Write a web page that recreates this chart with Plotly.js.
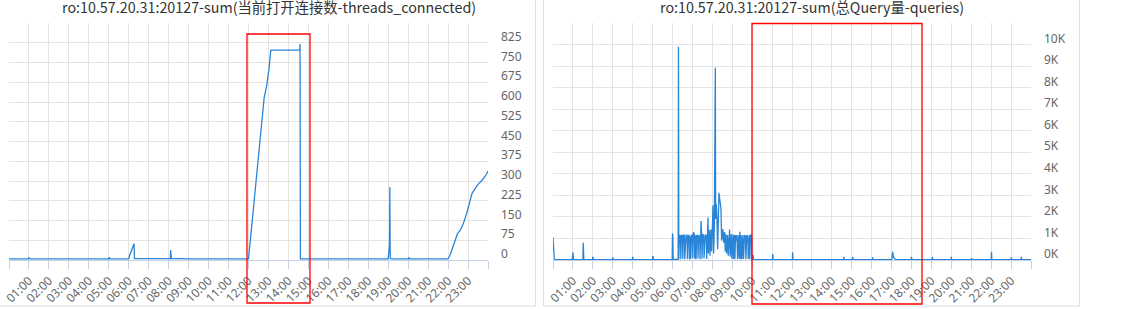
<!DOCTYPE html>
<html>
<head>
<meta charset="utf-8">
<script src="https://cdn.plot.ly/plotly-3.0.1.min.js"></script>
<style>html,body{margin:0;padding:0;background:#fff;}#chart{width:1131px;height:309px;}</style>
</head>
<body>
<div id="chart"></div>
<script>
// ---------- DATA ----------
const leftTitle = 'ro:10.57.20.31:20127-sum(当前打开连接数-threads_connected)';
const rightTitle = 'ro:10.57.20.31:20127-sum(总Query量-queries)';

const hourLabels = ['','01:00','02:00','03:00','04:00','05:00','06:00','07:00','08:00','09:00','10:00','11:00',
  '12:00','13:00','14:00','15:00','16:00','17:00','18:00','19:00','20:00','21:00','22:00','23:00',''];
const hourTimes = ['00:00','01:00','02:00','03:00','04:00','05:00','06:00','07:00','08:00','09:00','10:00','11:00',
  '12:00','13:00','14:00','15:00','16:00','17:00','18:00','19:00','20:00','21:00','22:00','23:00','24:00'];

const leftTickVals = [0,75,150,225,300,375,450,525,600,675,750,825,900];
const leftTickText = ['0','75','150','225','300','375','450','525','600','675','750','825',''];
const rightTickVals = [0,1000,2000,3000,4000,5000,6000,7000,8000,9000,10000,11000];
const rightTickText = ['0K','1K','2K','3K','4K','5K','6K','7K','8K','9K','10K',''];

const threadsTime = ['00:00','00:30','00:58','01:00','01:03','02:00','03:00','04:00','05:00','05:01','05:03',
  '06:00','06:02','06:08','06:16','06:17','07:00','07:50','08:05','08:06','08:08','09:00','10:00','11:00',
  '12:00','12:10','12:25','12:40','12:47','12:55','13:02','13:07','13:30','14:00','14:34','14:35','14:36',
  '15:00','16:00','17:00','18:00','19:00','19:04','19:05','19:06','19:10','20:00','20:02','20:04','21:00',
  '22:00','22:06','22:14','22:22','22:28','22:37','22:46','22:56','23:04','23:12','23:22','23:31','23:41','23:52','24:00'];
const threadsValue = [4,4,4,9,4,4,3,4,4,11,4,
  4,15,35,62,5,4,4,5,38,6,4,4,4,
  4,133,323,513,615,665,729,797,797,797,797,820,4,
  4,4,4,4,4,60,276,6,4,4,9,4,4,
  4,19,48,82,99,114,139,177,221,253,272,289,301,319,338];

const queriesTime = ['00:00','00:02','00:04','00:58','01:00','01:02','01:30','01:31','01:33','01:59','02:00','02:02',
  '02:59','03:00','03:02','03:59','04:00','04:02','04:59','05:01','05:03','05:59','06:00','06:01','06:02','06:17','06:18','06:19',
  '06:21','06:24','06:25','06:27','06:30','06:31','06:33','06:36','06:37','06:41','06:44','06:45','06:47','06:50','06:51',
  '06:53','06:55','06:57','07:00','07:01','07:03','07:06','07:07','07:09','07:11','07:13','07:16','07:17','07:19','07:22','07:23',
  '07:26','07:28','07:29','07:31','07:34','07:35','07:39','07:42','07:43','07:47','07:48','07:51','07:53','07:56','07:58',
  '08:02','08:04','08:06','08:09','08:10','08:12','08:14','08:16','08:20','08:23','08:26','08:28','08:32','08:34','08:37','08:39',
  '08:41','08:43','08:46','08:48','08:52','08:54','08:57','08:59','09:02','09:04','09:06','09:08','09:10','09:12','09:14','09:16',
  '09:19','09:21','09:23','09:25','09:27','09:29','09:32','09:34','09:37','09:40','09:41','09:44','09:47','09:48','09:50','09:52',
  '09:53','09:55','09:58','09:59','10:02','10:03','10:04','11:01','11:02','11:03','12:01','12:02','12:03',
  '14:35','14:36','14:37','15:02','15:03','15:04','16:02','16:03','16:04','17:01','17:03','17:06','17:10','17:12',
  '17:59','18:00','18:01','19:02','19:03','19:04','19:59','20:00','20:01','21:00','21:01','21:02','22:00','22:01','22:02',
  '23:00','23:01','23:02','23:30','23:31','23:32','24:00'];
const queriesValue = [1050,320,20,20,356,20,20,800,20,20,150,20,
  20,120,20,20,150,20,20,185,20,20,1235,1100,30,30,9900,30,
  1150,1120,40,1160,1100,60,1150,1150,30,1160,1100,50,1150,1130,40,
  1100,40,1160,1150,80,1296,1200,60,1150,40,1160,1120,70,1150,1100,40,
  1806,1150,60,1200,1150,80,1180,1100,50,1975,300,1389,200,1420,400,
  2546,300,1500,8920,1900,2593,1883,500,3117,2800,2392,900,1435,800,1300,400,
  1200,300,1157,200,1420,150,1200,50,1180,60,1157,40,1160,900,1157,50,
  1150,60,1312,40,1150,40,1160,50,1157,1100,40,1157,1100,50,1157,1157,
  40,1150,1150,30,20,230,20,20,280,20,20,356,20,
  20,150,20,20,150,20,20,120,20,20,385,120,40,20,
  20,150,20,20,150,20,20,150,20,20,80,20,20,385,20,
  20,120,20,20,150,20,20];

// ---------- HELPERS ----------
const DAY = '2024-01-01 ';
function toDate(t){ return t === '24:00' ? '2024-01-02 00:00' : DAY + t; }
const W = 1131, H = 309;
const px = x => x / W;
const py = y => 1 - y / H;

const lineColor = '#2a85d8';
const gridColor = '#e4e4e4';
const axisColor = '#c5d1e3';
const tickFont = {family: '"Noto Sans", "Noto Sans CJK SC", sans-serif', size: 12, color: '#666'};
const titleFont = {family: '"Noto Sans CJK SC", sans-serif', size: 14.3, color: '#333'};

const traces = [
  {x: threadsTime.map(toDate), y: threadsValue, type: 'scatter', mode: 'lines',
   line: {color: lineColor, width: 1.3}, xaxis: 'x', yaxis: 'y', hoverinfo: 'skip'},
  {x: queriesTime.map(toDate), y: queriesValue, type: 'scatter', mode: 'lines',
   line: {color: lineColor, width: 1.3}, xaxis: 'x2', yaxis: 'y2', hoverinfo: 'skip'}
];

function xAxis(dom, anchor){
  return {domain: dom, anchor: anchor, type: 'date',
    range: [toDate('00:00'), toDate('24:00')],
    tickmode: 'array', tickvals: hourTimes.map(toDate), ticktext: hourLabels,
    tickangle: -45, tickfont: tickFont,
    showgrid: true, gridcolor: gridColor, gridwidth: 1,
    showline: true, linecolor: axisColor, linewidth: 1,
    ticks: 'outside', ticklen: 8, tickcolor: axisColor, tickwidth: 1,
    zeroline: false, fixedrange: true};
}
function yAxis(dom, anchor, vals, text, maxV){
  return {domain: dom, anchor: anchor, side: 'right', range: [0, maxV],
    tickmode: 'array', tickvals: vals, ticktext: text, tickfont: tickFont,
    showgrid: true, gridcolor: gridColor, gridwidth: 1,
    showline: false, ticks: '', zeroline: false,
    ticklabelshift: -6, ticklabelstandoff: 12, fixedrange: true};
}

const yDom = [py(260), py(23)];

const layout = {
  width: W, height: H,
  margin: {l: 0, r: 0, t: 0, b: 0, pad: 0},
  paper_bgcolor: '#fff', plot_bgcolor: '#fff',
  showlegend: false,
  xaxis: xAxis([px(9), px(488)], 'y'),
  yaxis: yAxis(yDom, 'x', leftTickVals, leftTickText, 900),
  xaxis2: xAxis([px(553), px(1031)], 'y2'),
  yaxis2: yAxis(yDom, 'x2', rightTickVals, rightTickText, 11000),
  annotations: [
    {text: leftTitle, xref: 'paper', yref: 'paper', x: px(269), y: py(6.5), xanchor: 'center', yanchor: 'middle',
     showarrow: false, font: titleFont},
    {text: rightTitle, xref: 'paper', yref: 'paper', x: px(812), y: py(6.5), xanchor: 'center', yanchor: 'middle',
     showarrow: false, font: titleFont}
  ],
  shapes: [
    // panel borders
    {type: 'line', xref: 'paper', yref: 'paper', x0: px(535.5), x1: px(535.5), y0: py(306), y1: py(-2), line: {color: '#dedede', width: 1}},
    {type: 'line', xref: 'paper', yref: 'paper', x0: px(-2), x1: px(535.5), y0: py(306), y1: py(306), line: {color: '#dedede', width: 1}},
    {type: 'rect', xref: 'paper', yref: 'paper', x0: px(543.5), x1: px(1079.5), y0: py(306), y1: py(-2), line: {color: '#dedede', width: 1}},
    // red highlight boxes
    {type: 'rect', xref: 'paper', yref: 'paper', x0: px(247), x1: px(310), y0: py(303), y1: py(34), line: {color: '#ff0000', width: 1.3}},
    {type: 'rect', xref: 'paper', yref: 'paper', x0: px(752), x1: px(922), y0: py(304), y1: py(23.5), line: {color: '#ff0000', width: 1.3}}
  ]
};

Plotly.newPlot('chart', traces, layout, {staticPlot: true, displayModeBar: false});
</script>
</body>
</html>
